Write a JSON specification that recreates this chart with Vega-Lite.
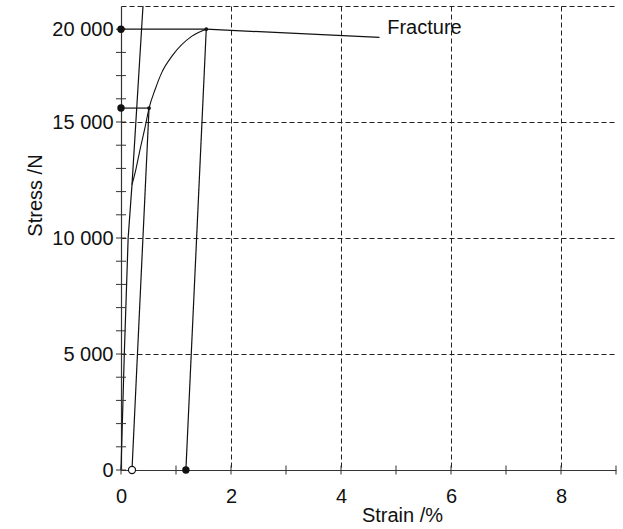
{
  "$schema": "https://vega.github.io/schema/vega-lite/v6.json",
  "width": 495,
  "height": 464,
  "autosize": {"type": "none"},
  "padding": {"left": 121, "top": 6, "right": 7, "bottom": 59},
  "background": "white",
  "config": {
    "view": {"stroke": null},
    "font": "Liberation Sans"
  },
  "datasets": {
    "lines": [
      {"series": "elastic", "order": 1, "strain": 0, "stress": 0},
      {"series": "elastic", "order": 2, "strain": 0.06, "stress": 5000},
      {"series": "elastic", "order": 3, "strain": 0.13, "stress": 10000},
      {"series": "elastic", "order": 4, "strain": 0.2, "stress": 12300},
      {"series": "elastic", "order": 5, "strain": 0.4, "stress": 20000},
      {"series": "fracture", "order": 1, "strain": 1.55, "stress": 19000},
      {"series": "fracture", "order": 2, "strain": 4.7, "stress": 18650},
      {"series": "unload1", "order": 1, "strain": 0.2, "stress": 0},
      {"series": "unload1", "order": 2, "strain": 0.51, "stress": 15600},
      {"series": "unload2", "order": 1, "strain": 1.18, "stress": 0},
      {"series": "unload2", "order": 2, "strain": 1.55, "stress": 19000},
      {"series": "level1", "order": 1, "strain": 0, "stress": 15600},
      {"series": "level1", "order": 2, "strain": 0.51, "stress": 15600},
      {"series": "level2", "order": 1, "strain": 0, "stress": 19000},
      {"series": "level2", "order": 2, "strain": 1.55, "stress": 19000}
    ],
    "curve": [
      {"strain": 0.2, "stress": 12300},
      {"strain": 0.27, "stress": 12950},
      {"strain": 0.345, "stress": 13800},
      {"strain": 0.44, "stress": 14800},
      {"strain": 0.51, "stress": 15600},
      {"strain": 0.62, "stress": 16400},
      {"strain": 0.745, "stress": 17150},
      {"strain": 0.93, "stress": 17850},
      {"strain": 1.29, "stress": 18700},
      {"strain": 1.55, "stress": 19000}
    ],
    "points": [
      {"kind": "big", "strain": 0, "stress": 19000},
      {"kind": "big", "strain": 0, "stress": 15600},
      {"kind": "big", "strain": 1.18, "stress": 0},
      {"kind": "small", "strain": 0.51, "stress": 15600},
      {"kind": "small", "strain": 1.55, "stress": 19000},
      {"kind": "open", "strain": 0.2, "stress": 0}
    ],
    "notes": [
      {"label": "Fracture", "strain": 4.84, "stress": 19050}
    ],
    "yticks": [
      {"stress": 0}, {"stress": 1000}, {"stress": 2000}, {"stress": 3000}, {"stress": 4000},
      {"stress": 5000}, {"stress": 6000}, {"stress": 7000}, {"stress": 8000}, {"stress": 9000},
      {"stress": 10000}, {"stress": 11000}, {"stress": 12000}, {"stress": 13000}, {"stress": 14000},
      {"stress": 15000}, {"stress": 16000}, {"stress": 17000}, {"stress": 18000}, {"stress": 19000}
    ],
    "xticks": [
      {"strain": 0}, {"strain": 1}, {"strain": 2}, {"strain": 3}, {"strain": 4},
      {"strain": 5}, {"strain": 6}, {"strain": 7}, {"strain": 8}, {"strain": 9}
    ]
  },
  "layer": [
    {
      "data": {"name": "lines"},
      "mark": {"type": "line", "color": "#111", "strokeWidth": 1.2},
      "encoding": {
        "x": {
          "field": "strain", "type": "quantitative",
          "scale": {"domain": [0, 9], "nice": false, "zero": false},
          "axis": {
            "orient": "bottom",
            "title": "Strain /%",
            "values": [0, 1, 2, 3, 4, 5, 6, 7, 8, 9],
            "format": "d",
            "labelExpr": "datum.value % 2 === 0 ? format(datum.value, 'd') : ''",
            "labelFlush": false,
            "labelOverlap": false,
            "labelFontSize": 20,
            "labelColor": "#111",
            "labelPadding": 16,
            "ticks": false,
            "tickSize": 0,
            "domainColor": "#333",
            "domainWidth": 1.2,
            "grid": true,
            "gridColor": "#222",
            "gridDash": [5, 3],
            "gridWidth": 1,
            "gridOpacity": {"condition": {"test": "datum.value > 0 && datum.value % 2 === 0", "value": 1}, "value": 0},
            "titleFontSize": 20,
            "titleFontWeight": "normal",
            "titleColor": "#111",
            "titleX": 281,
            "titleY": 45,
            "titleAlign": "center",
            "titleBaseline": "middle"
          }
        },
        "y": {
          "field": "stress", "type": "quantitative",
          "scale": {"domain": [0, 20000], "nice": false, "zero": false},
          "axis": {
            "orient": "left",
            "title": "Stress /N",
            "values": [0, 5000, 10000, 15000, 19000, 20000],
            "labelExpr": "datum.value === 19000 ? '20 000' : datum.value === 0 ? '0' : (datum.value % 5000 === 0 && datum.value < 20000) ? (datum.value / 1000) + ' 000' : ''",
            "labelOverlap": false,
            "labelFontSize": 20,
            "labelColor": "#111",
            "labelPadding": 8,
            "ticks": false,
            "tickSize": 0,
            "domainColor": "#333",
            "domainWidth": 1.2,
            "grid": true,
            "gridColor": "#222",
            "gridDash": [5, 3],
            "gridWidth": 1,
            "gridOpacity": {"condition": {"test": "datum.value > 0 && datum.value % 5000 === 0", "value": 1}, "value": 0},
            "titleFontSize": 20,
            "titleFontWeight": "normal",
            "titleColor": "#111",
            "titleAngle": -90,
            "titleX": -86,
            "titleY": 189,
            "titleAlign": "center",
            "titleBaseline": "middle"
          }
        },
        "detail": {"field": "series"},
        "order": {"field": "order", "type": "quantitative"}
      }
    },
    {
      "data": {"name": "curve"},
      "mark": {"type": "line", "color": "#111", "strokeWidth": 1.1, "interpolate": "monotone"},
      "encoding": {
        "x": {"field": "strain", "type": "quantitative"},
        "y": {"field": "stress", "type": "quantitative"}
      }
    },
    {
      "data": {"name": "yticks"},
      "mark": {"type": "tick", "orient": "horizontal", "size": 10, "thickness": 1, "color": "#333", "opacity": 1},
      "encoding": {
        "x": {"datum": 0, "type": "quantitative"},
        "y": {"field": "stress", "type": "quantitative"}
      }
    },
    {
      "data": {"name": "xticks"},
      "mark": {"type": "tick", "orient": "vertical", "size": 9, "thickness": 1, "color": "#333", "opacity": 1},
      "encoding": {
        "x": {"field": "strain", "type": "quantitative"},
        "y": {"datum": 0, "type": "quantitative"}
      }
    },
    {
      "data": {"name": "points"},
      "transform": [{"filter": "datum.kind === 'big'"}],
      "mark": {"type": "circle", "size": 55, "color": "#111", "opacity": 1},
      "encoding": {
        "x": {"field": "strain", "type": "quantitative"},
        "y": {"field": "stress", "type": "quantitative"}
      }
    },
    {
      "data": {"name": "points"},
      "transform": [{"filter": "datum.kind === 'small'"}],
      "mark": {"type": "circle", "size": 14, "color": "#111", "opacity": 1},
      "encoding": {
        "x": {"field": "strain", "type": "quantitative"},
        "y": {"field": "stress", "type": "quantitative"}
      }
    },
    {
      "data": {"name": "points"},
      "transform": [{"filter": "datum.kind === 'open'"}],
      "mark": {"type": "point", "shape": "circle", "size": 50, "filled": true, "fill": "white", "stroke": "#111", "strokeWidth": 1.2, "opacity": 1},
      "encoding": {
        "x": {"field": "strain", "type": "quantitative"},
        "y": {"field": "stress", "type": "quantitative"}
      }
    },
    {
      "data": {"name": "notes"},
      "mark": {"type": "text", "align": "left", "baseline": "middle", "fontSize": 20, "color": "#111"},
      "encoding": {
        "x": {"field": "strain", "type": "quantitative"},
        "y": {"field": "stress", "type": "quantitative"},
        "text": {"field": "label"}
      }
    }
  ]
}
